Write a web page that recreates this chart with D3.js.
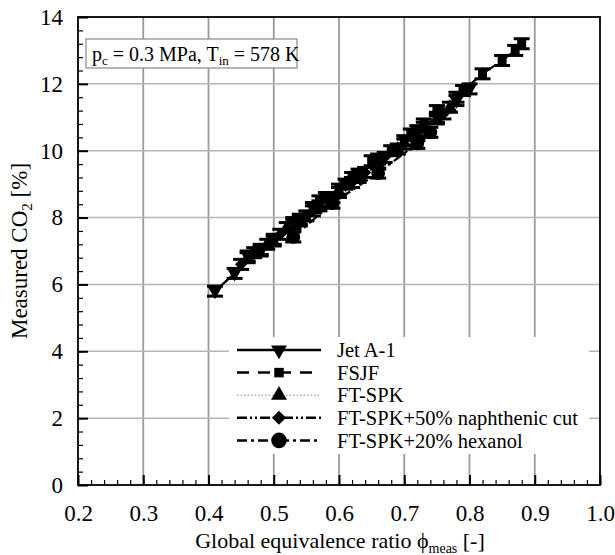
<!DOCTYPE html>
<html><head><meta charset="utf-8">
<script src="https://cdn.jsdelivr.net/npm/d3@7"></script>
<style>body{margin:0;background:#fff}svg{display:block}text{font-family:"Liberation Serif","Times New Roman",serif}</style>
</head><body>
<svg id="c" width="615" height="555"></svg>
<script>
const xTicks = [0.2,0.3,0.4,0.5,0.6,0.7,0.8,0.9,1.0];
const yTicks = [0,2,4,6,8,10,12,14];
const seriesNames = ["Jet A-1","FSJF","FT-SPK","FT-SPK+50% naphthenic cut","FT-SPK+20% hexanol"];
const jetPhi = [0.41,0.44,0.46,0.48,0.50,0.53,0.56,0.58,0.61,0.63,0.66,0.70,0.72,0.75,0.78,0.80];
const jetCO2 = [5.80,6.33,6.85,7.00,7.35,7.80,8.30,8.60,9.00,9.30,9.75,10.30,10.60,11.00,11.50,11.85];
const fsjfPhi = [0.47,0.50,0.53,0.55,0.57,0.60,0.62,0.65,0.68,0.71,0.73,0.75,0.78,0.79,0.82,0.85,0.87,0.88];
const fsjfCO2 = [6.95,7.30,7.85,8.05,8.50,8.85,9.20,9.70,10.00,10.50,10.80,11.20,11.60,11.80,12.30,12.70,13.00,13.20];
const ftPhi = [0.46,0.49,0.52,0.54,0.57,0.60,0.63,0.66,0.69,0.72,0.75,0.77];
const ftCO2 = [6.80,7.20,7.70,7.95,8.35,8.75,9.20,9.60,10.05,10.45,10.95,11.30];
const napPhi = [0.45,0.48,0.51,0.54,0.56,0.59,0.62,0.64,0.67,0.70,0.73,0.76];
const napCO2 = [6.60,7.05,7.50,7.90,8.20,8.60,9.05,9.35,9.80,10.20,10.70,11.10];
const hexPhi = [0.53,0.59,0.66,0.72,0.74];
const hexCO2 = [7.42,8.43,9.33,10.22,10.55];
const errCO2 = 0.15;

const svg = d3.select("#c");
const L=78,R=600,T=17,B=485;
const x = d3.scaleLinear().domain([0.2,1.0]).range([L,R]);
const y = d3.scaleLinear().domain([0,14]).range([B,T]);

// grid
svg.append("g").selectAll("line").data(xTicks.slice(1,-1)).join("line")
  .attr("x1",d=>x(d)).attr("x2",d=>x(d)).attr("y1",T).attr("y2",B)
  .attr("stroke","#9a9a9a").attr("stroke-width",1.8);
svg.append("g").selectAll("line").data(yTicks.slice(1,-1)).join("line")
  .attr("y1",d=>y(d)).attr("y2",d=>y(d)).attr("x1",L).attr("x2",R)
  .attr("stroke","#b5b5b5").attr("stroke-width",1.5);

// axes with inward ticks
const minorX = d3.range(0.2,1.0001,0.02);
const minorY = d3.range(0,14.0001,0.4);
const gx = svg.append("g").attr("transform",`translate(0,${B})`)
  .call(d3.axisBottom(x).tickValues(minorX).tickSize(-5).tickFormat(""));
gx.select(".domain").remove();
gx.selectAll("line").attr("stroke","#000").attr("stroke-width",1.2);
const gx2 = svg.append("g").attr("transform",`translate(0,${B})`)
  .call(d3.axisBottom(x).tickValues(xTicks).tickSize(-10).tickFormat(d3.format(".1f")));
gx2.select(".domain").remove();
gx2.selectAll("line").attr("stroke","#000").attr("stroke-width",2);
gx2.selectAll("text").attr("font-size",23).attr("fill","#000").attr("y",20);

const gy = svg.append("g").attr("transform",`translate(${L},0)`)
  .call(d3.axisLeft(y).tickValues(minorY).tickSize(-5).tickFormat(""));
gy.select(".domain").remove();
gy.selectAll("line").attr("stroke","#000").attr("stroke-width",1.2);
const gy2 = svg.append("g").attr("transform",`translate(${L},0)`)
  .call(d3.axisLeft(y).tickValues(yTicks).tickSize(-10).tickFormat(d3.format("d")));
gy2.select(".domain").remove();
gy2.selectAll("line").attr("stroke","#000").attr("stroke-width",2);
gy2.selectAll("text").attr("font-size",23).attr("fill","#000").attr("x",-15);

svg.append("rect").attr("x",L).attr("y",T).attr("width",R-L).attr("height",B-T)
  .attr("fill","none").attr("stroke","#000").attr("stroke-width",1.8);

// series
const dashes = [null,"12,9","1.5,2","10,3,2,3,2,3","10,4,3,4"];
const symbols = [d3.symbolTriangle,d3.symbolSquare,d3.symbolTriangle,d3.symbolSquare,d3.symbolCircle];
const symSize = [85,80,85,75,150];
const rot = [180,0,0,45,0];
const lw = [2.2,2.2,1,2.2,2.2];
const dataSets = [[jetPhi,jetCO2],[fsjfPhi,fsjfCO2],[ftPhi,ftCO2],[napPhi,napCO2],[hexPhi,hexCO2]];
const line = d3.line().x(d=>x(d[0])).y(d=>y(d[1]));
dataSets.forEach(([px,py],i)=>{
  const pts = px.map((v,k)=>[v,py[k]]);
  const g = svg.append("g");
  g.append("path").attr("d",line(pts)).attr("fill","none").attr("stroke",i==2?"#555":"#000")
    .attr("stroke-width",lw[i]).attr("stroke-dasharray",dashes[i]);
  const e = g.selectAll("g.e").data(pts).join("g");
  e.append("line").attr("x1",d=>x(d[0])).attr("x2",d=>x(d[0]))
    .attr("y1",d=>y(d[1]-errCO2)).attr("y2",d=>y(d[1]+errCO2)).attr("stroke","#000").attr("stroke-width",2);
  [-1,1].forEach(s=>{
    e.append("line").attr("x1",d=>x(d[0])-8).attr("x2",d=>x(d[0])+8)
      .attr("y1",d=>y(d[1]+s*errCO2)).attr("y2",d=>y(d[1]+s*errCO2)).attr("stroke","#000").attr("stroke-width",3);
  });
  e.append("path").attr("d",d3.symbol().type(symbols[i]).size(symSize[i]))
    .attr("transform",d=>`translate(${x(d[0])},${y(d[1])}) rotate(${rot[i]})`).attr("fill","#000");
});

// legend
const lg = svg.append("g");
lg.append("rect").attr("x",229).attr("y",337).attr("width",360).attr("height",117).attr("fill","#fff");
const legSize = [110,90,110,100,190];
seriesNames.forEach((n,i)=>{
  const yy = 350 + i*22.6;
  lg.append("line").attr("x1",237).attr("x2",321).attr("y1",yy).attr("y2",yy)
    .attr("stroke",i==2?"#888":"#000").attr("stroke-width",i==2?1:2.5).attr("stroke-dasharray",dashes[i]);
  lg.append("path").attr("d",d3.symbol().type(symbols[i]).size(legSize[i]))
    .attr("transform",`translate(279,${yy}) rotate(${rot[i]})`).attr("fill","#000");
  lg.append("text").attr("x",337).attr("y",yy).attr("dy","0.35em").attr("font-size",20.5).text(n);
});

// annotation
svg.append("rect").attr("x",86).attr("y",39).attr("width",211).attr("height",29)
  .attr("fill","#fff").attr("stroke","#888").attr("stroke-width",1.2);
const at = svg.append("text").attr("x",92).attr("y",61).attr("font-size",20);
at.append("tspan").text("p");
at.append("tspan").attr("font-size",13).attr("dy",4).text("c");
at.append("tspan").attr("dy",-4).text(" = 0.3 MPa, T");
at.append("tspan").attr("font-size",13).attr("dy",4).text("in");
at.append("tspan").attr("dy",-4).text(" = 578 K");

// axis titles
const xt = svg.append("text").attr("x",340).attr("y",548).attr("text-anchor","middle").attr("font-size",22);
xt.append("tspan").text("Global equivalence ratio \u03d5");
xt.append("tspan").attr("font-size",14).attr("dy",5).text("meas");
xt.append("tspan").attr("dy",-5).text(" [-]");
const yt = svg.append("text").attr("transform","translate(27,251) rotate(-90)").attr("text-anchor","middle").attr("font-size",23);
yt.append("tspan").text("Measured CO");
yt.append("tspan").attr("font-size",15).attr("dy",5).text("2");
yt.append("tspan").attr("dy",-5).text(" [%]");
</script>
</body></html>
